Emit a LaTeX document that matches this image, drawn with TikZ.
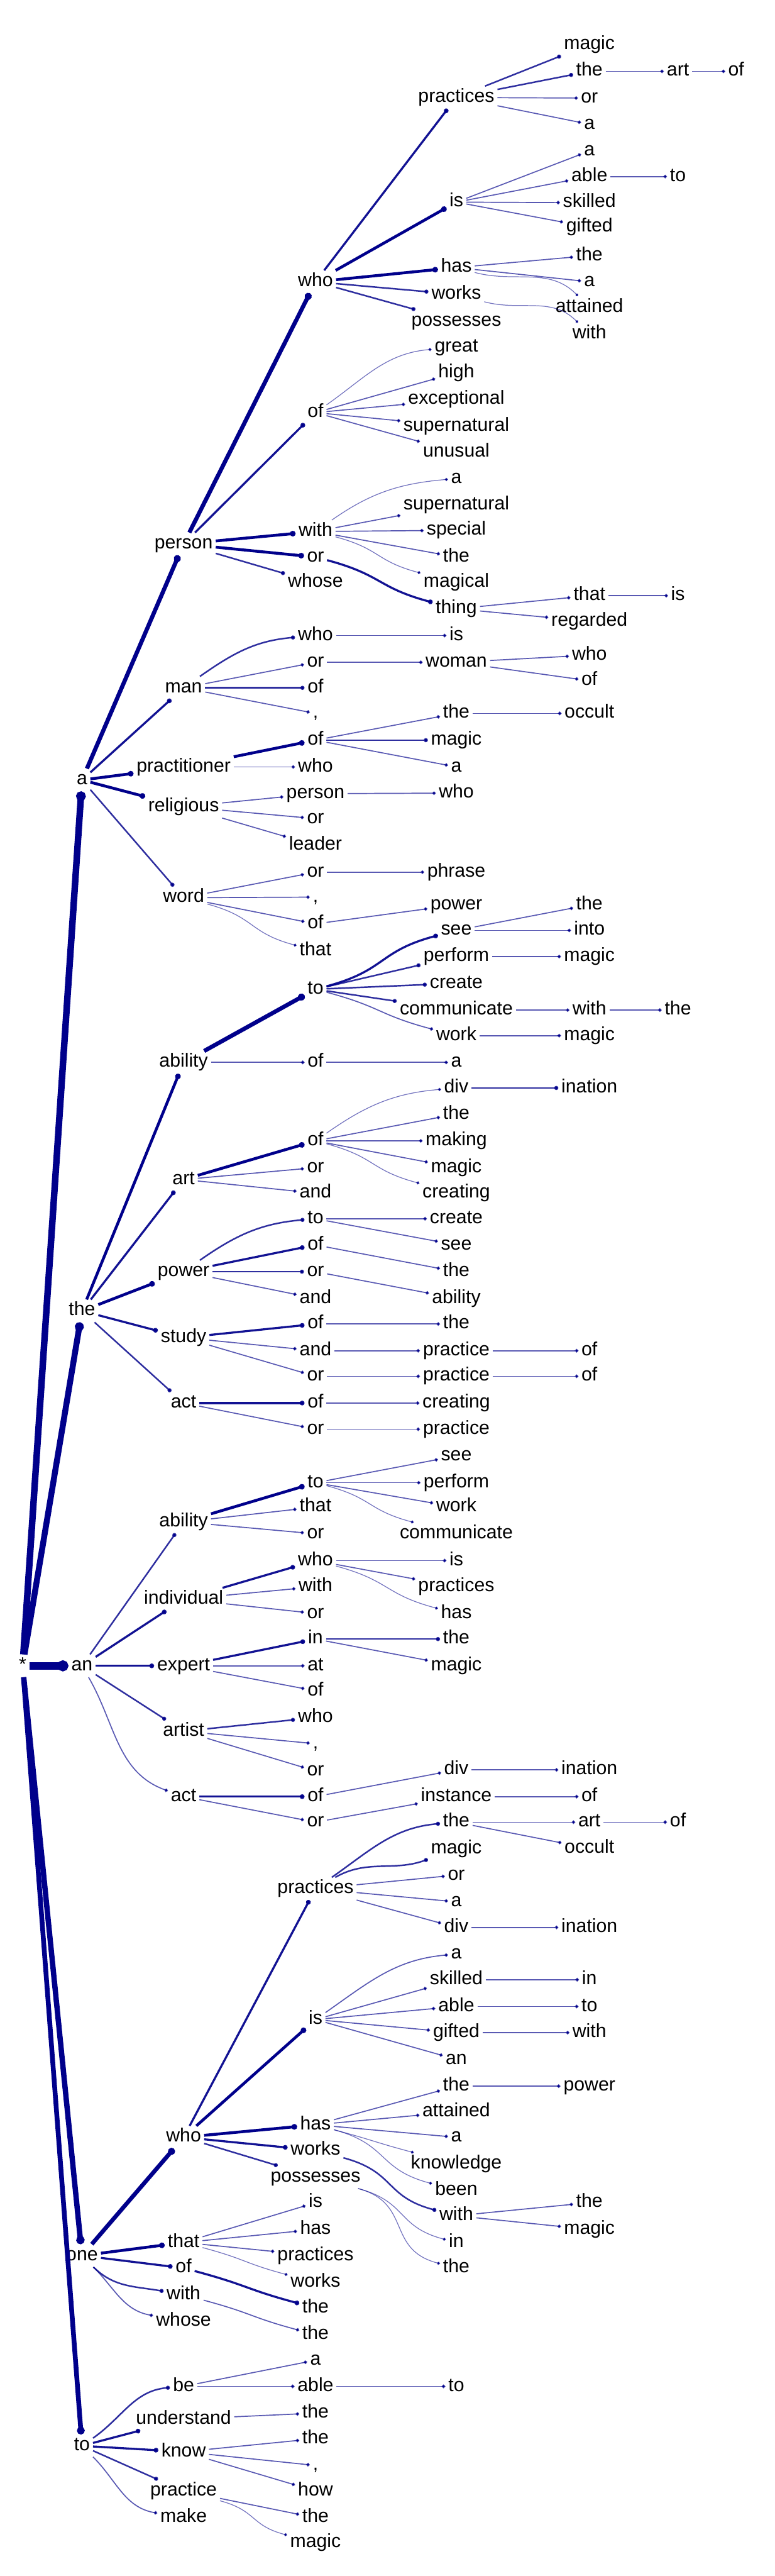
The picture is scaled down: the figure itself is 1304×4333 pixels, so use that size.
\documentclass[tikz,border=0pt]{standalone}
\usepackage{fontspec}
\setmainfont{Liberation Sans}
\usetikzlibrary{arrows.meta}
\definecolor{navyc}{RGB}{0,0,139}
\newcommand\wf{\fontsize{32}{38}\selectfont}
\newcommand\ed[4][]{\draw[lnk,#2] (#3) to[#1] (#4);}
\begin{document}
\begin{tikzpicture}[x=1pt,y=1pt,
 w/.style={font=\wf, inner xsep=5pt, inner ysep=4pt, text height=23pt, text depth=7pt, anchor=base},
 lnk/.style={draw=navyc, -{Circle[length=4pt 1.1]}},
 lA/.style={line width=1.3pt, draw opacity=.55},
 lB/.style={line width=1.8pt, draw opacity=.65},
 lC/.style={line width=2.6pt, draw opacity=.82},
 lD/.style={line width=3.5pt, draw opacity=.93},
 lE/.style={line width=4.8pt},
 lF/.style={line width=7pt},
 lG/.style={line width=10pt},
 lH/.style={line width=13pt},
 cu/.style={out=35,in=185},
 cd/.style={out=-45,in=170},
 sd/.style={out=-15,in=165,looseness=1.3},
 su/.style={out=15,in=195,looseness=1.3}]
\fill[white] (0,0) rectangle (1304,-4333);
\useasboundingbox (0,0) rectangle (1304,-4333);

\node[w] (s) at (38,-2810) {*};
\node[w] (a) at (138,-1320) {a};
\node[w] (t) at (138,-2213) {the};
\node[w] (n) at (138,-2810) {an};
\node[w] (o) at (138,-3802) {one};
\node[w] (q) at (138,-4122) {to};

% a subtree
\node[w] (ap) at (309,-923) {person};
\node[w] (am) at (309,-1165) {man};
\node[w] (ar) at (309,-1298) {practitioner};
\node[w] (ag) at (309,-1365) {religious};
\node[w] (aw) at (309,-1518) {word};

\node[w] (apw) at (531,-482) {who};
\node[w] (apo) at (531,-702) {of};
\node[w] (apt) at (531,-902) {with};
\node[w] (apr) at (531,-945) {or};
\node[w] (apz) at (531,-988) {whose};

\node[w] (apwp) at (768,-172) {practices};
\node[w] (apwi) at (768,-348) {is};
\node[w] (apwh) at (768,-458) {has};
\node[w] (apww) at (768,-503) {works};
\node[w] (apwo) at (768,-548) {possesses};

\node[w] (apwp1) at (992,-83) {magic};
\node[w] (apwp2) at (992,-128) {the};
\node[w] (apwp2a) at (1141,-128) {art};
\node[w] (apwp2b) at (1239,-128) {of};
\node[w] (apwp3) at (992,-173) {or};
\node[w] (apwp4) at (992,-217) {a};
\node[w] (apwi1) at (992,-262) {a};
\node[w] (apwi2) at (992,-305) {able};
\node[w] (apwi2a) at (1141,-305) {to};
\node[w] (apwi3) at (992,-349) {skilled};
\node[w] (apwi4) at (992,-390) {gifted};
\node[w] (apwh1) at (992,-438) {the};
\node[w] (apwh2) at (992,-482) {a};
\node[w] (apwh3) at (992,-525) {attained};
\node[w] (apww1) at (992,-570) {with};

\node[w] (apo1) at (768,-592) {great};
\node[w] (apo2) at (768,-635) {high};
\node[w] (apo3) at (768,-680) {exceptional};
\node[w] (apo4) at (768,-725) {supernatural};
\node[w] (apo5) at (768,-768) {unusual};
\node[w] (apt1) at (768,-813) {a};
\node[w] (apt2) at (768,-857) {supernatural};
\node[w] (apt3) at (768,-900) {special};
\node[w] (apt4) at (768,-945) {the};
\node[w] (apt5) at (768,-988) {magical};
\node[w] (apr1) at (768,-1032) {thing};
\node[w] (apr1a) at (992,-1010) {that};
\node[w] (apr1aa) at (1141,-1010) {is};
\node[w] (apr1b) at (992,-1053) {regarded};

\node[w] (amw) at (531,-1077) {who};
\node[w] (amw1) at (768,-1077) {is};
\node[w] (amr) at (531,-1122) {or};
\node[w] (amr1) at (768,-1122) {woman};
\node[w] (amr1a) at (992,-1110) {who};
\node[w] (amr1b) at (992,-1153) {of};
\node[w] (amo) at (531,-1165) {of};
\node[w] (amc) at (531,-1208) {,};

\node[w] (aro) at (531,-1253) {of};
\node[w] (aro1) at (768,-1208) {the};
\node[w] (aro1a) at (992,-1208) {occult};
\node[w] (aro2) at (768,-1253) {magic};
\node[w] (aro3) at (768,-1298) {a};
\node[w] (arw) at (531,-1298) {who};

\node[w] (agp) at (531,-1343) {person};
\node[w] (agp1) at (768,-1342) {who};
\node[w] (agr) at (531,-1385) {or};
\node[w] (agl) at (531,-1430) {leader};

\node[w] (awr) at (531,-1475) {or};
\node[w] (awr1) at (768,-1475) {phrase};
\node[w] (awc) at (531,-1517) {,};
\node[w] (awo) at (531,-1562) {of};
\node[w] (awo1) at (768,-1530) {power};
\node[w] (awt) at (531,-1607) {that};

% the subtree
\node[w] (tb) at (309,-1795) {ability};
\node[w] (tbt) at (531,-1672) {to};
\node[w] (tbt1) at (768,-1573) {see};
\node[w] (tbt1a) at (992,-1530) {the};
\node[w] (tbt1b) at (992,-1573) {into};
\node[w] (tbt2) at (768,-1617) {perform};
\node[w] (tbt2a) at (992,-1617) {magic};
\node[w] (tbt3) at (768,-1662) {create};
\node[w] (tbt4) at (768,-1707) {communicate};
\node[w] (tbt4a) at (992,-1707) {with};
\node[w] (tbt4b) at (1141,-1707) {the};
\node[w] (tbt5) at (768,-1750) {work};
\node[w] (tbt5a) at (992,-1750) {magic};
\node[w] (tbo) at (531,-1795) {of};
\node[w] (tbo1) at (768,-1795) {a};

\node[w] (ta) at (309,-1992) {art};
\node[w] (tao) at (531,-1927) {of};
\node[w] (tao1) at (768,-1838) {div};
\node[w] (tao1a) at (992,-1838) {ination};
\node[w] (tao2) at (768,-1882) {the};
\node[w] (tao3) at (768,-1927) {making};
\node[w] (tao4) at (768,-1972) {magic};
\node[w] (tao5) at (768,-2015) {creating};
\node[w] (tar) at (531,-1972) {or};
\node[w] (tan) at (531,-2015) {and};

\node[w] (tp) at (309,-2147) {power};
\node[w] (tpt) at (531,-2058) {to};
\node[w] (tpt1) at (768,-2058) {create};
\node[w] (tpt2) at (768,-2102) {see};
\node[w] (tpo) at (531,-2102) {of};
\node[w] (tpo1) at (768,-2147) {the};
\node[w] (tpr) at (531,-2147) {or};
\node[w] (tpr1) at (768,-2192) {ability};
\node[w] (tpn) at (531,-2192) {and};

\node[w] (ts) at (309,-2258) {study};
\node[w] (tso) at (531,-2235) {of};
\node[w] (tso1) at (768,-2235) {the};
\node[w] (tsn) at (531,-2280) {and};
\node[w] (tsn1) at (768,-2280) {practice};
\node[w] (tsn1a) at (992,-2280) {of};
\node[w] (tsr) at (531,-2323) {or};
\node[w] (tsr1) at (768,-2323) {practice};
\node[w] (tsr1a) at (992,-2323) {of};

\node[w] (tc) at (309,-2368) {act};
\node[w] (tco) at (531,-2368) {of};
\node[w] (tco1) at (768,-2368) {creating};
\node[w] (tcr) at (531,-2412) {or};
\node[w] (tcr1) at (768,-2412) {practice};

% an subtree
\node[w] (nb) at (309,-2568) {ability};
\node[w] (nbt) at (531,-2502) {to};
\node[w] (nbt1) at (768,-2457) {see};
\node[w] (nbt2) at (768,-2502) {perform};
\node[w] (nbt3) at (768,-2543) {work};
\node[w] (nbt4) at (768,-2588) {communicate};
\node[w] (nbh) at (531,-2543) {that};
\node[w] (nbr) at (531,-2588) {or};

\node[w] (ni) at (309,-2698) {individual};
\node[w] (niw) at (531,-2633) {who};
\node[w] (niw1) at (768,-2633) {is};
\node[w] (niw2) at (768,-2677) {practices};
\node[w] (niw3) at (768,-2722) {has};
\node[w] (nit) at (531,-2677) {with};
\node[w] (nir) at (531,-2722) {or};

\node[w] (ne) at (309,-2810) {expert};
\node[w] (nei) at (531,-2765) {in};
\node[w] (nei1) at (768,-2765) {the};
\node[w] (nei2) at (768,-2810) {magic};
\node[w] (nea) at (531,-2810) {at};
\node[w] (neo) at (531,-2852) {of};

\node[w] (na) at (309,-2920) {artist};
\node[w] (naw) at (531,-2897) {who};
\node[w] (nac) at (531,-2941) {,};
\node[w] (nar) at (531,-2987) {or};

\node[w] (nc) at (309,-3030) {act};
\node[w] (nco) at (531,-3030) {of};
\node[w] (nco1) at (768,-2985) {div};
\node[w] (nco1a) at (992,-2985) {ination};
\node[w] (ncr) at (531,-3073) {or};
\node[w] (ncr1) at (768,-3030) {instance};
\node[w] (ncr1a) at (992,-3030) {of};

% one subtree
\node[w] (ow) at (309,-3603) {who};
\node[w] (owp) at (531,-3185) {practices};
\node[w] (owp1) at (768,-3073) {the};
\node[w] (owp1a) at (992,-3073) {art};
\node[w] (owp1aa) at (1141,-3073) {of};
\node[w] (owp1b) at (992,-3117) {occult};
\node[w] (owp2) at (768,-3118) {magic};
\node[w] (owp3) at (768,-3162) {or};
\node[w] (owp4) at (768,-3207) {a};
\node[w] (owp5) at (768,-3250) {div};
\node[w] (owp5a) at (992,-3250) {ination};
\node[w] (owi) at (531,-3405) {is};
\node[w] (owi1) at (768,-3295) {a};
\node[w] (owi2) at (768,-3338) {skilled};
\node[w] (owi2a) at (992,-3338) {in};
\node[w] (owi3) at (768,-3383) {able};
\node[w] (owi3a) at (992,-3383) {to};
\node[w] (owi4) at (768,-3427) {gifted};
\node[w] (owi4a) at (992,-3427) {with};
\node[w] (owi5) at (768,-3472) {an};
\node[w] (owh) at (531,-3582) {has};
\node[w] (owh1) at (768,-3517) {the};
\node[w] (owh1a) at (992,-3517) {power};
\node[w] (owh2) at (768,-3560) {attained};
\node[w] (owh3) at (768,-3603) {a};
\node[w] (owh4) at (768,-3648) {knowledge};
\node[w] (owh5) at (768,-3692) {been};
\node[w] (oww) at (531,-3625) {works};
\node[w] (oww1) at (768,-3735) {with};
\node[w] (oww1a) at (992,-3713) {the};
\node[w] (oww1b) at (992,-3758) {magic};
\node[w] (owo) at (531,-3670) {possesses};
\node[w] (owo1) at (768,-3780) {in};
\node[w] (owo2) at (768,-3823) {the};

\node[w] (ot) at (309,-3780) {that};
\node[w] (ot1) at (531,-3713) {is};
\node[w] (ot2) at (531,-3758) {has};
\node[w] (ot3) at (531,-3802) {practices};
\node[w] (ot4) at (531,-3847) {works};
\node[w] (oo) at (309,-3823) {of};
\node[w] (oo1) at (531,-3890) {the};
\node[w] (oh) at (309,-3868) {with};
\node[w] (oh1) at (531,-3935) {the};
\node[w] (oz) at (309,-3912) {whose};

% to subtree
\node[w] (qb) at (309,-4022) {be};
\node[w] (qb1) at (531,-3978) {a};
\node[w] (qb2) at (531,-4022) {able};
\node[w] (qb2a) at (768,-4022) {to};
\node[w] (qu) at (309,-4077) {understand};
\node[w] (qu1) at (531,-4067) {the};
\node[w] (qk) at (309,-4132) {know};
\node[w] (qk1) at (531,-4110) {the};
\node[w] (qk2) at (531,-4155) {,};
\node[w] (qk3) at (531,-4198) {how};
\node[w] (qp) at (309,-4198) {practice};
\node[w] (qp1) at (531,-4243) {the};
\node[w] (qp2) at (531,-4285) {magic};
\node[w] (qm) at (309,-4243) {make};

% ---- edges
\ed{lG,line width=11pt}{s}{a}
\ed{lG}{s}{t}
\ed{lH}{s}{n}
\ed{lG,line width=9pt}{s}{o}
\ed{lG,line width=8pt}{s}{q}

\ed{lF}{a}{ap}
\ed{lD}{a}{am}
\ed{lE}{a}{ar}
\ed{lE}{a}{ag}
\ed{lC}{a}{aw}

\ed{lF}{ap}{apw}
\ed{lD}{ap}{apo}
\ed{lE}{ap}{apt}
\ed{lE}{ap}{apr}
\ed{lC}{ap}{apz}

\ed{lD}{apw}{apwp}
\ed{lE}{apw}{apwi}
\ed{lE}{apw}{apwh}
\ed{lC}{apw}{apww}
\ed{lC}{apw}{apwo}
\ed{lC}{apwp}{apwp1}
\ed{lC}{apwp}{apwp2}
\ed{lB}{apwp}{apwp3}
\ed{lB}{apwp}{apwp4}
\ed{lB}{apwp2}{apwp2a}
\ed{lB}{apwp2a}{apwp2b}
\ed{lB}{apwi}{apwi1}
\ed{lB}{apwi}{apwi2}
\ed{lB}{apwi}{apwi3}
\ed{lB}{apwi}{apwi4}
\ed{lB}{apwi2}{apwi2a}
\ed{lB}{apwh}{apwh1}
\ed{lB}{apwh}{apwh2}
\ed[out=-15,in=135]{lA}{apwh}{apwh3}
\ed[out=-15,in=135]{lA}{apww}{apww1}

\ed[cu]{lA}{apo}{apo1}
\ed{lB}{apo}{apo2}
\ed{lB}{apo}{apo3}
\ed{lB}{apo}{apo4}
\ed{lB}{apo}{apo5}
\ed[cu]{lA}{apt}{apt1}
\ed{lB}{apt}{apt2}
\ed{lB}{apt}{apt3}
\ed{lB}{apt}{apt4}
\ed[sd]{lA}{apt}{apt5}
\ed[sd]{lD}{apr}{apr1}
\ed{lB}{apr1}{apr1a}
\ed{lB}{apr1a}{apr1aa}
\ed{lB}{apr1}{apr1b}

\ed[cu]{lC}{am}{amw}
\ed{lB}{am}{amr}
\ed{lC}{am}{amo}
\ed{lB}{am}{amc}
\ed{lB}{amw}{amw1}
\ed{lB}{amr}{amr1}
\ed{lB}{amr1}{amr1a}
\ed{lB}{amr1}{amr1b}

\ed{lE}{ar}{aro}
\ed{lB}{ar}{arw}
\ed{lB}{aro}{aro1}
\ed{lB}{aro1}{aro1a}
\ed{lC}{aro}{aro2}
\ed{lB}{aro}{aro3}

\ed{lB}{ag}{agp}
\ed{lB}{ag}{agr}
\ed{lB}{ag}{agl}
\ed{lB}{agp}{agp1}

\ed{lB}{aw}{awr}
\ed{lB}{aw}{awc}
\ed{lB}{aw}{awo}
\ed[sd]{lA}{aw}{awt}
\ed{lB}{awr}{awr1}
\ed{lB}{awo}{awo1}

% the
\ed{lE}{t}{tb}
\ed{lF}{tb}{tbt}
\ed{lB}{tb}{tbo}
\ed{lB}{tbo}{tbo1}
\ed[su]{lD}{tbt}{tbt1}
\ed{lC}{tbt}{tbt2}
\ed{lC}{tbt}{tbt3}
\ed{lC}{tbt}{tbt4}
\ed[sd]{lB}{tbt}{tbt5}
\ed{lB}{tbt1}{tbt1a}
\ed{lB}{tbt1}{tbt1b}
\ed{lB}{tbt2}{tbt2a}
\ed{lB}{tbt4}{tbt4a}
\ed{lB}{tbt4a}{tbt4b}
\ed{lB}{tbt5}{tbt5a}

\ed{lD}{t}{ta}
\ed{lE}{ta}{tao}
\ed{lB}{ta}{tar}
\ed{lB}{ta}{tan}
\ed[cu]{lA}{tao}{tao1}
\ed{lB}{tao}{tao2}
\ed{lB}{tao}{tao3}
\ed{lB}{tao}{tao4}
\ed[sd]{lA}{tao}{tao5}
\ed{lC}{tao1}{tao1a}

\ed{lE}{t}{tp}
\ed[cu]{lC}{tp}{tpt}
\ed{lD}{tp}{tpo}
\ed{lC}{tp}{tpr}
\ed{lB}{tp}{tpn}
\ed{lB}{tpt}{tpt1}
\ed{lB}{tpt}{tpt2}
\ed{lB}{tpo}{tpo1}
\ed{lB}{tpr}{tpr1}

\ed{lD}{t}{ts}
\ed{lD}{ts}{tso}
\ed{lB}{ts}{tsn}
\ed{lB}{ts}{tsr}
\ed{lB}{tso}{tso1}
\ed{lB}{tsn}{tsn1}
\ed{lB}{tsn1}{tsn1a}
\ed{lB}{tsr}{tsr1}
\ed{lB}{tsr1}{tsr1a}

\ed{lC}{t}{tc}
\ed{lD}{tc}{tco}
\ed{lB}{tc}{tcr}
\ed{lB}{tco}{tco1}
\ed{lB}{tcr}{tcr1}

% an
\ed{lC}{n}{nb}
\ed{lD}{n}{ni}
\ed{lD}{n}{ne}
\ed{lC}{n}{na}
\ed[out=-60,in=160]{lB}{n}{nc}
\ed{lE}{nb}{nbt}
\ed{lB}{nb}{nbh}
\ed{lB}{nb}{nbr}
\ed{lB}{nbt}{nbt1}
\ed{lB}{nbt}{nbt2}
\ed{lB}{nbt}{nbt3}
\ed[sd]{lA}{nbt}{nbt4}
\ed{lD}{ni}{niw}
\ed{lB}{ni}{nit}
\ed{lB}{ni}{nir}
\ed{lB}{niw}{niw1}
\ed{lB}{niw}{niw2}
\ed[sd]{lA}{niw}{niw3}
\ed{lD}{ne}{nei}
\ed{lB}{ne}{nea}
\ed{lB}{ne}{neo}
\ed{lC}{nei}{nei1}
\ed{lB}{nei}{nei2}
\ed{lC}{na}{naw}
\ed{lB}{na}{nac}
\ed{lB}{na}{nar}
\ed{lD}{nc}{nco}
\ed{lB}{nc}{ncr}
\ed{lB}{nco}{nco1}
\ed{lB}{nco1}{nco1a}
\ed{lB}{ncr}{ncr1}
\ed{lB}{ncr1}{ncr1a}

% one
\ed{lF}{o}{ow}
\ed{lE}{o}{ot}
\ed{lD}{o}{oo}
\ed[cd]{lC}{o}{oh}
\ed[cd]{lB}{o}{oz}
\ed{lD}{ow}{owp}
\ed{lE}{ow}{owi}
\ed{lE}{ow}{owh}
\ed{lD}{ow}{oww}
\ed{lC}{ow}{owo}
\ed[cu]{lC}{owp}{owp1}
\ed[out=30,in=200]{lC}{owp}{owp2}
\ed{lB}{owp}{owp3}
\ed{lB}{owp}{owp4}
\ed{lB}{owp}{owp5}
\ed{lB}{owp1}{owp1a}
\ed{lB}{owp1a}{owp1aa}
\ed{lB}{owp1}{owp1b}
\ed{lB}{owp5}{owp5a}
\ed[cu]{lB}{owi}{owi1}
\ed{lB}{owi}{owi2}
\ed{lB}{owi}{owi3}
\ed{lB}{owi}{owi4}
\ed{lB}{owi}{owi5}
\ed{lB}{owi2}{owi2a}
\ed{lB}{owi3}{owi3a}
\ed{lB}{owi4}{owi4a}
\ed{lB}{owh}{owh1}
\ed{lB}{owh}{owh2}
\ed{lB}{owh}{owh3}
\ed[sd]{lA}{owh}{owh4}
\ed[sd]{lA}{owh}{owh5}
\ed{lB}{owh1}{owh1a}
\ed[sd]{lC}{oww}{oww1}
\ed{lB}{oww1}{oww1a}
\ed{lB}{oww1}{oww1b}
\ed[sd]{lA}{owo}{owo1}
\ed[sd]{lA}{owo}{owo2}
\ed{lB}{ot}{ot1}
\ed{lB}{ot}{ot2}
\ed{lB}{ot}{ot3}
\ed[sd]{lA}{ot}{ot4}
\ed[sd]{lD}{oo}{oo1}
\ed[sd]{lB}{oh}{oh1}

% to
\ed[cu]{lC}{q}{qb}
\ed{lD}{q}{qu}
\ed{lD}{q}{qk}
\ed{lC}{q}{qp}
\ed[cd]{lB}{q}{qm}
\ed{lB}{qb}{qb1}
\ed{lB}{qb}{qb2}
\ed{lB}{qb2}{qb2a}
\ed{lB}{qu}{qu1}
\ed{lB}{qk}{qk1}
\ed{lB}{qk}{qk2}
\ed{lB}{qk}{qk3}
\ed{lB}{qp}{qp1}
\ed[sd]{lA}{qp}{qp2}
\end{tikzpicture}
\end{document}
